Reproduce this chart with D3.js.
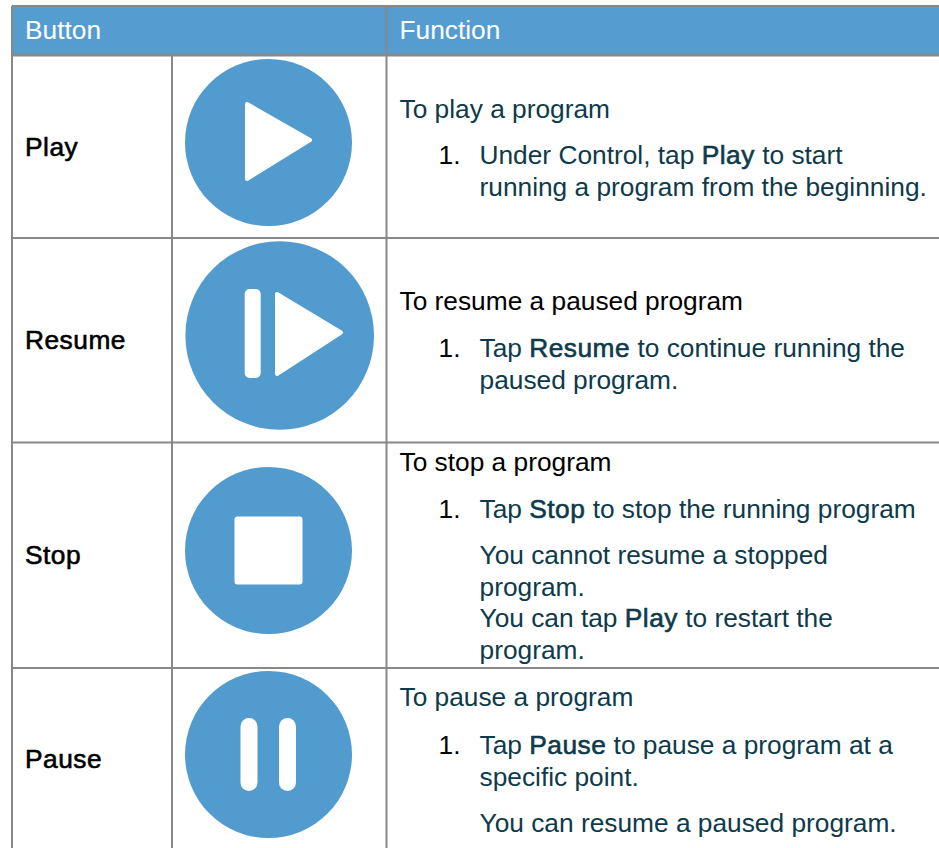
<!DOCTYPE html>
<html>
<head>
<meta charset="utf8">
<style>
html, body { margin: 0; padding: 0; background: #fff; overflow: hidden; }
text { font-family: "Liberation Sans", Arial, sans-serif; font-size: 26.3px; }
</style>
</head>
<body>
<div id="canvas"></div>
<script src="https://cdn.jsdelivr.net/npm/d3@7"></script>
<script>
// table content
const headers = ["Button", "Function"];
const buttons = ["Play", "Resume", "Stop", "Pause"];
const titles = ["To play a program", "To resume a paused program", "To stop a program", "To pause a program"];
const stepNumbers = ["1.", "1.", "1.", "1."];
// **word** is drawn bold, each entry is one line of the list text
const steps = [
    ["Under Control, tap **Play** to start", "running a program from the beginning."],
    ["Tap **Resume** to continue running the", "paused program."],
    ["Tap **Stop** to stop the running program", "You cannot resume a stopped", "program.", "You can tap **Play** to restart the", "program."],
    ["Tap **Pause** to pause a program at a", "specific point.", "You can resume a paused program."]
];

// layout
const width = 939, height = 848;
const colX = [12, 172, 386.5, 939];
const rowY = [6, 55, 238, 442.5, 668, 848];
const blue = "#559dd1", lineGray = "#888888", bodyDark = "#0e3a4b";
const titleColors = [bodyDark, "#000", "#000", bodyDark];
const labelBase = [156, 349, 564, 768];
const titleBase = [118, 310, 471, 706];
const stepBase = [
    [164, 196],
    [357, 389],
    [518, 564, 596, 627, 659],
    [754, 786, 832]
];
const circles = [
    {cx: 268.5, cy: 142.5, r: 83.5},
    {cx: 279.7, cy: 335.5, r: 94.3},
    {cx: 268.5, cy: 550.5, r: 83.5},
    {cx: 268.5, cy: 754.5, r: 83.5}
];

const svg = d3.select("#canvas").append("svg")
    .attr("width", width)
    .attr("height", height)
    .style("display", "block");

// header band
svg.append("rect")
    .attr("x", colX[0]).attr("y", rowY[0])
    .attr("width", width - colX[0]).attr("height", rowY[1] - rowY[0])
    .attr("fill", blue);

// grid lines
const hLines = rowY.slice(0, 5);
svg.selectAll("line.h").data(hLines).join("line")
    .attr("class", "h")
    .attr("x1", colX[0]).attr("x2", width)
    .attr("y1", d => d).attr("y2", d => d)
    .attr("stroke", lineGray)
    .attr("stroke-width", (d, i) => i == 1 ? 3 : 2);

const vLines = [
    {x: colX[0], y1: rowY[0], y2: height},
    {x: colX[1], y1: rowY[1], y2: height},
    {x: colX[2], y1: rowY[0], y2: height}
];
svg.selectAll("line.v").data(vLines).join("line")
    .attr("class", "v")
    .attr("x1", d => d.x).attr("x2", d => d.x)
    .attr("y1", d => d.y1).attr("y2", d => d.y2)
    .attr("stroke", lineGray)
    .attr("stroke-width", 2);

// header labels
svg.selectAll("text.head").data(headers).join("text")
    .attr("class", "head")
    .attr("x", (d, i) => i == 0 ? 25 : 399.5)
    .attr("y", 39)
    .attr("fill", "#fff")
    .text(d => d);

// bold in the screenshot is a thickened regular face
function addBold(sel, color) {
    sel.attr("stroke", color)
        .attr("stroke-width", 0.6)
        .attr("letter-spacing", "0.5px");
}

// button names
svg.selectAll("text.name").data(buttons).join("text")
    .attr("class", "name")
    .attr("x", 25)
    .attr("y", (d, i) => labelBase[i])
    .attr("fill", "#000")
    .call(addBold, "#000")
    .text(d => d);

// icons
const icons = svg.selectAll("g.icon").data(circles).join("g").attr("class", "icon");
icons.append("circle")
    .attr("cx", d => d.cx).attr("cy", d => d.cy).attr("r", d => d.r)
    .attr("fill", "#529bcf");

function triangle(pts) {
    svg.append("path")
        .attr("d", d3.line()(pts) + "Z")
        .attr("fill", "#fff")
        .attr("stroke", "#fff")
        .attr("stroke-width", 4)
        .attr("stroke-linejoin", "round");
}
function bar(x, y, w, h, r) {
    svg.append("rect")
        .attr("x", x).attr("y", y).attr("width", w).attr("height", h).attr("rx", r)
        .attr("fill", "#fff");
}
triangle([[247, 104], [310, 140], [247, 179]]);
bar(244.7, 289, 16, 89, 5);
triangle([[277, 294], [341, 332.5], [277, 374]]);
bar(234.5, 516.5, 68, 68, 3);
bar(240.5, 718, 17, 73, 8.5);
bar(279, 718, 17, 73, 8.5);

// titles
svg.selectAll("text.title").data(titles).join("text")
    .attr("class", "title")
    .attr("x", 399.5)
    .attr("y", (d, i) => titleBase[i])
    .attr("fill", (d, i) => titleColors[i])
    .text(d => d);

// list number
svg.selectAll("text.num").data(stepNumbers).join("text")
    .attr("class", "num")
    .attr("x", 438.5)
    .attr("y", (d, i) => stepBase[i][0])
    .attr("fill", "#000")
    .text(d => d);

// list lines
steps.forEach((lines, r) => {
    lines.forEach((line, l) => {
        const t = svg.append("text")
            .attr("x", 479.5)
            .attr("y", stepBase[r][l])
            .attr("fill", bodyDark);
        line.split("**").forEach((part, k) => {
            const span = t.append("tspan").text(part);
            if (k % 2 == 1) addBold(span, bodyDark);
        });
    });
});
</script>
</body>
</html>
